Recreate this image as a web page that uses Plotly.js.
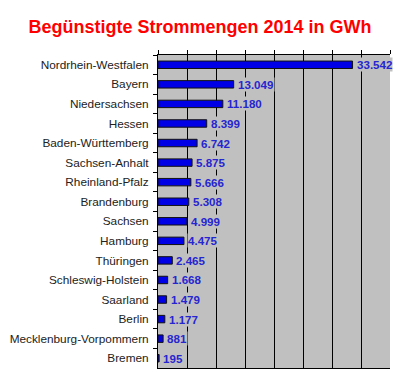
<!DOCTYPE html>
<html>
<head>
<meta charset="utf-8">
<script src="https://cdn.plot.ly/plotly-3.0.1.min.js"></script>
<style>html,body{margin:0;padding:0;background:#fff;}#chart{width:400px;height:377px;}</style>
</head>
<body>
<div id="chart"></div>
<script>
const states = ["Nordrhein-Westfalen","Bayern","Niedersachsen","Hessen","Baden-Württemberg","Sachsen-Anhalt","Rheinland-Pfalz","Brandenburg","Sachsen","Hamburg","Thüringen","Schleswig-Holstein","Saarland","Berlin","Mecklenburg-Vorpommern","Bremen"];
const values = [33542,13049,11180,8399,6742,5875,5666,5308,4999,4475,2465,1668,1479,1177,881,195];

function fmt(v) {
  return String(v).replace(/\B(?=(\d{3})+(?!\d))/g, ".");
}

const trace = {
  type: "bar",
  orientation: "h",
  y: states,
  x: values,
  width: 0.38,
  marker: {color: "#0000e6", line: {color: "#111111", width: 1}},
  hoverinfo: "none"
};

const annotations = states.map((s, i) => ({
  x: values[i], y: s, xref: "x", yref: "y",
  text: "<b>" + fmt(values[i]) + "</b>",
  showarrow: false, xanchor: "left", yanchor: "middle", xshift: 3,
  bgcolor: "#c0c0c0", borderpad: 0,
  font: {family: "Liberation Sans, Arial, sans-serif", size: 11.6, color: "#2626d0"}
}));

const layout = {
  width: 400, height: 377,
  margin: {l: 158, r: 10, t: 55, b: 9},
  paper_bgcolor: "#ffffff",
  plot_bgcolor: "#c0c0c0",
  showlegend: false,
  title: {text: "<b>Begünstigte Strommengen 2014 in GWh</b>", x: 0.5, xanchor: "center", y: 0.93, yanchor: "middle",
          font: {family: "Liberation Sans, Arial, sans-serif", size: 18, color: "#ff0000"}},
  xaxis: {
    range: [0, 40000], dtick: 5000, side: "top",
    showticklabels: false, ticks: "outside", ticklen: 4, tickcolor: "#000",
    showgrid: true, gridcolor: "#000000", gridwidth: 1,
    showline: true, linecolor: "#000", linewidth: 1, mirror: true,
    zeroline: false, fixedrange: true
  },
  yaxis: {
    autorange: "reversed", type: "category",
    ticks: "outside", ticklen: 4, tickcolor: "#000", tickson: "boundaries",
    showline: true, linecolor: "#000", linewidth: 1,
    showgrid: false, ticklabelstandoff: 6,
    tickfont: {family: "Liberation Sans, Arial, sans-serif", size: 11.8, color: "#222"},
    fixedrange: true
  },
  annotations: annotations,
  bargap: 0.6
};

Plotly.newPlot("chart", [trace], layout, {displayModeBar: false, staticPlot: true});
</script>
</body>
</html>
